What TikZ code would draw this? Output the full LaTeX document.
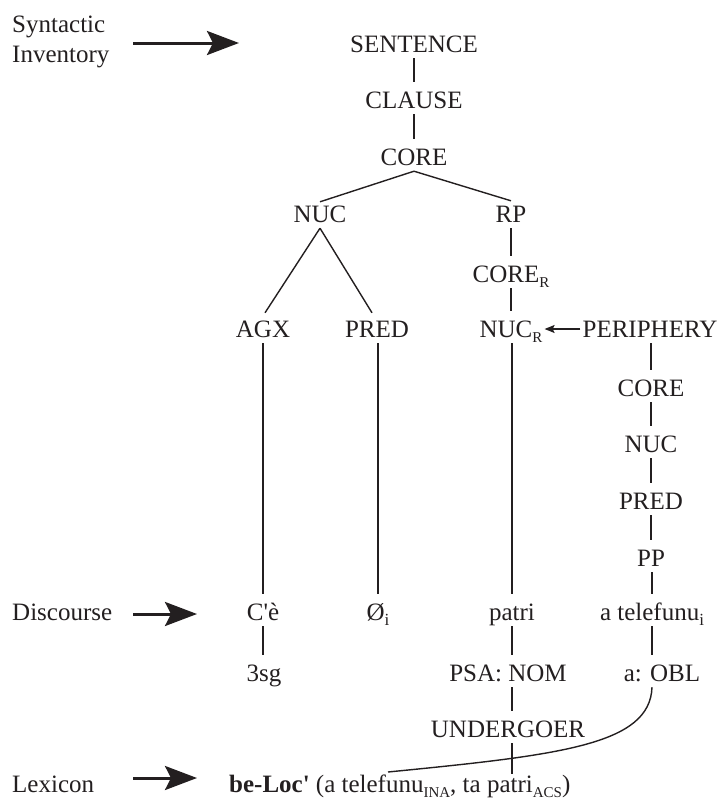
\documentclass[tikz,border=0pt]{standalone}
\usepackage{fontspec}
\setmainfont{Liberation Serif}
\usetikzlibrary{arrows.meta}
\definecolor{ink}{HTML}{231F20}
% small lowered subscripts (capitals / lowercase)
\newcommand\sbs[1]{\raisebox{-5pt}{\fontsize{15}{15}\selectfont #1}}
\newcommand\sbi[1]{\raisebox{-5pt}{\fontsize{17}{17}\selectfont #1}}

\begin{document}
\begin{tikzpicture}[x=1pt,y=-1pt,
  every node/.style={font=\fontsize{25}{30}\selectfont, text=ink},
  cat/.style={inner sep=0pt, text height=26pt, text depth=6pt, anchor=base},
  side/.style={inner sep=0pt, anchor=base west, align=left},
  branch/.style={draw=ink, line width=1.4pt},
  bigarrow/.style={draw=ink, line width=3pt, -{Stealth[length=32pt,width=24pt,inset=6pt]}},
  smallarrow/.style={draw=ink, line width=1.4pt, -{Stealth[length=10pt,width=8pt,inset=2pt]}}]
\useasboundingbox (0,0) rectangle (718,801);

% row labels on the left
\node[side] (syn)  at (12,62)  {Syntactic\\Inventory};
\node[side] (disc) at (12,620) {Discourse};
\node[side] (lexl) at (12,792) {Lexicon};

\coordinate (synA)  at (133,43);  \coordinate (synB)  at (239,43);
\coordinate (discA) at (133,614); \coordinate (discB) at (197,614);
\coordinate (lexA)  at (133,778); \coordinate (lexB)  at (197,778);
\draw[bigarrow] (synA) -- (synB);
\draw[bigarrow] (discA) -- (discB);
\draw[bigarrow] (lexA) -- (lexB);

% layered structure of the clause
\node[cat] (sent)   at (414,52)  {SENTENCE};
\node[cat] (clause) at (414,108) {CLAUSE};
\node[cat] (core)   at (414,165) {CORE};
\node[cat] (nuc)    at (320,222) {NUC};
\node[cat] (rp)     at (511,222) {RP};
\node[cat] (corer)  at (511,282) {CORE\sbs{R}};
\node[cat] (agx)    at (263,337) {AGX};
\node[cat] (pred)   at (377,337) {PRED};
\node[cat] (nucr)   at (511,337) {NUC\sbs{R}};
\node[cat] (peri)   at (650,337) {PERIPHERY};
\node[cat] (pcore)  at (651,396) {CORE};
\node[cat] (pnuc)   at (651,452) {NUC};
\node[cat] (ppred)  at (651,509) {PRED};
\node[cat] (pp)     at (651,566) {PP};

% discourse row and below
\node[cat] (ce)     at (263,620) {C\textquotesingle è};
\node[cat] (zero)   at (378,620) {Ø\sbi{i}};
\node[cat] (patri)  at (512,620) {patri};
\node[cat] (telef)  at (652,620) {a telefunu\sbi{i}};
\node[cat] (sg)     at (264,681) {3sg};
\node[cat] (psa)    at (508,681) {PSA: NOM};
\node[cat] (obl)    at (662,681) {a: OBL};
\node[cat] (und)    at (508,737) {UNDERGOER};
\node[side] (lex)   at (229,792) {\textbf{be-Loc\textquotesingle} (a telefunu\sbs{INA}, ta patri\sbs{ACS})};
\coordinate (lexTel) at (388,772);

% branches
\draw[branch] (sent.south) -- (clause.north);
\draw[branch] (clause.south) -- (core.north);
\draw[branch] (core.south) -- ([yshift=-6pt]nuc.north);
\draw[branch] (core.south) -- ([yshift=-5pt]rp.north);
\draw[branch] (rp.south) -- (corer.north);
\draw[branch] (corer.south) -- (nucr.north);
\draw[branch] (nuc.south) -- ([xshift=2pt,yshift=-2pt]agx.north);
\draw[branch] (nuc.south) -- ([xshift=-5pt,yshift=-2pt]pred.north);
\draw[smallarrow, shorten <=2pt, shorten >=2pt] ([yshift=-2pt]peri.west) -- ([yshift=-2pt]nucr.east);
\draw[branch] (peri.south -| pcore) -- (pcore.north);
\draw[branch] (pcore.south) -- (pnuc.north);
\draw[branch] (pnuc.south) -- (ppred.north);
\draw[branch] (ppred.south) -- (pp.north);
\draw[branch] (pp.south -| telef) -- (telef.north);
\draw[branch] (agx.south) -- (ce.north);
\draw[branch] (pred.south -| zero) -- (zero.north);
\draw[branch] (nucr.south -| patri) -- (patri.north);
\draw[branch] (ce.south) -- (ce.south |- sg.north);
\draw[branch] (patri.south) -- (patri.south |- psa.north);
\draw[branch] (telef.south) -- (telef.south |- obl.north);
\draw[branch] (psa.south -| patri) -- (patri |- und.north);
\draw[branch] (und.south -| patri) -- (patri |- lex.north);
\draw[branch] (obl.south -| telef) .. controls (650,745) and (560,755) .. (lexTel);
\end{tikzpicture}
\end{document}
